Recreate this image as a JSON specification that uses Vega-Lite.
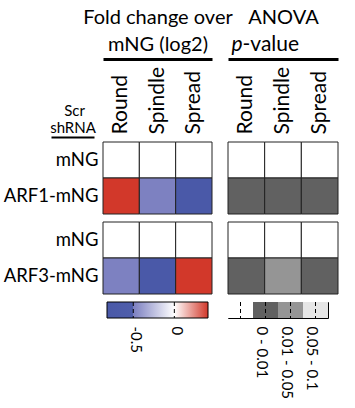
{
  "$schema": "https://vega.github.io/schema/vega-lite/v6.json",
  "padding": {"left": 3, "top": 7, "right": 5, "bottom": 5},
  "datasets": {
    "cells": [
      {"group": "ARF1", "row": "mNG", "col": "Round", "fold": 0, "pcat": "> 0.1"},
      {"group": "ARF1", "row": "mNG", "col": "Spindle", "fold": 0, "pcat": "> 0.1"},
      {"group": "ARF1", "row": "mNG", "col": "Spread", "fold": 0, "pcat": "> 0.1"},
      {"group": "ARF1", "row": "ARF1-mNG", "col": "Round", "fold": 0.41, "pcat": "0 - 0.01"},
      {"group": "ARF1", "row": "ARF1-mNG", "col": "Spindle", "fold": -0.49, "pcat": "0 - 0.01"},
      {"group": "ARF1", "row": "ARF1-mNG", "col": "Spread", "fold": -0.7, "pcat": "0 - 0.01"},
      {"group": "ARF3", "row": "mNG", "col": "Round", "fold": 0, "pcat": "> 0.1"},
      {"group": "ARF3", "row": "mNG", "col": "Spindle", "fold": 0, "pcat": "> 0.1"},
      {"group": "ARF3", "row": "mNG", "col": "Spread", "fold": 0, "pcat": "> 0.1"},
      {"group": "ARF3", "row": "ARF3-mNG", "col": "Round", "fold": -0.49, "pcat": "0 - 0.01"},
      {"group": "ARF3", "row": "ARF3-mNG", "col": "Spindle", "fold": -0.7, "pcat": "0.01 - 0.05"},
      {"group": "ARF3", "row": "ARF3-mNG", "col": "Spread", "fold": 0.41, "pcat": "0 - 0.01"}
    ]
  },
  "columns": 2,
  "spacing": {"row": 8, "column": 16},
  "bounds": "flush",
  "center": true,
  "concat": [
    {
      "width": 109, "height": 72,
      "layer": [
        {
          "data": {"name": "cells"},
          "transform": [{"filter": "datum.group == 'ARF1'"}],
          "mark": {"type": "rect", "stroke": "#222222", "strokeWidth": 1},
          "encoding": {
            "x": {"field": "col", "type": "nominal", "sort": ["Round", "Spindle", "Spread"],
              "scale": {"paddingInner": 0, "paddingOuter": 0},
              "axis": {"orient": "top", "labelAngle": -90, "labelAlign": "left", "labelBaseline": "middle", "labelPadding": 8, "ticks": false, "domain": false, "labelFontSize": 21,
                "title": "Fold change over", "titleFontSize": 20, "titleY": -119, "titleBaseline": "alphabetic"}},
            "y": {"field": "row", "type": "nominal", "sort": ["mNG", "ARF1-mNG"],
              "scale": {"paddingInner": 0, "paddingOuter": 0},
              "axis": {"labelPadding": 5, "ticks": false, "domain": false, "labelFontSize": 18.5,
                "title": "Scr", "titleAngle": 0, "titleAlign": "center", "titleBaseline": "alphabetic", "titleX": -29, "titleY": -27, "titleFontSize": 15}},
            "color": {"field": "fold", "type": "quantitative",
              "scale": {"type": "linear", "domain": [-0.82, -0.5, -0.499, 0, 0.41], "range": ["#4a59a8", "#4a59a8", "#7b7fc0", "#ffffff", "#d2382a"], "interpolate": "rgb"},
              "legend": null}
          }
        },
        {
          "data": {"values": []},
          "mark": "rule",
          "encoding": {
            "x": {"field": "col", "type": "nominal",
              "axis": {"orient": "top", "offset": 83, "labels": false, "ticks": false, "grid": false, "domain": true, "domainWidth": 3, "domainColor": "black", "title": "mNG (log2)", "titleFontSize": 20, "titleY": -9, "titleBaseline": "alphabetic"}}
          }
        }
      ],
      "resolve": {"axis": {"x": "independent"}}
    },
    {
      "width": 110, "height": 72,
      "layer": [
        {
          "data": {"name": "cells"},
          "transform": [{"filter": "datum.group == 'ARF1'"}],
          "mark": {"type": "rect", "stroke": "#222222", "strokeWidth": 1},
          "encoding": {
            "x": {"field": "col", "type": "nominal", "sort": ["Round", "Spindle", "Spread"],
              "scale": {"paddingInner": 0, "paddingOuter": 0},
              "axis": {"orient": "top", "labelAngle": -90, "labelAlign": "left", "labelBaseline": "middle", "labelPadding": 8, "ticks": false, "domain": false, "labelFontSize": 21,
                "title": "ANOVA", "titleFontSize": 20, "titleY": -119, "titleBaseline": "alphabetic"}},
            "y": {"field": "row", "type": "nominal", "sort": ["mNG", "ARF1-mNG"],
              "scale": {"paddingInner": 0, "paddingOuter": 0},
              "axis": {"labels": false, "ticks": false, "domain": false,
                "title": "p", "titleFontStyle": "italic", "titleAngle": 0, "titleAlign": "right", "titleBaseline": "alphabetic", "titleX": 14, "titleY": -92, "titleFontSize": 21}},
            "color": {"field": "pcat", "type": "nominal",
              "scale": {"domain": ["> 0.1", "0 - 0.01", "0.01 - 0.05", "0.05 - 0.1"], "range": ["#ffffff", "#616161", "#959595", "#e6e6e6"]},
              "legend": null}
          }
        },
        {
          "data": {"values": []},
          "mark": "rule",
          "encoding": {
            "x": {"field": "col", "type": "nominal",
              "axis": {"orient": "top", "offset": 83, "labels": false, "ticks": false, "grid": false, "domain": true, "domainWidth": 3, "domainColor": "black", "title": "-value", "titleFontSize": 21, "titleAlign": "left", "titleX": 14, "titleY": -9, "titleBaseline": "alphabetic"}}
          }
        }
      ],
      "resolve": {"axis": {"x": "independent"}}
    },
    {
      "width": 109, "height": 72,
      "data": {"name": "cells"},
      "transform": [{"filter": "datum.group == 'ARF3'"}],
      "mark": {"type": "rect", "stroke": "#222222", "strokeWidth": 1},
      "encoding": {
        "x": {"field": "col", "type": "nominal", "sort": ["Round", "Spindle", "Spread"],
          "scale": {"paddingInner": 0, "paddingOuter": 0},
          "axis": {"orient": "top", "offset": 85, "position": -52, "labels": false, "ticks": false, "grid": false, "domain": true, "domainWidth": 2, "domainColor": "black", "domainDash": [43, 400],
            "title": "shRNA", "titleFontSize": 15, "titleX": 21.5, "titleY": -5, "titleAlign": "center", "titleBaseline": "alphabetic"}},
        "y": {"field": "row", "type": "nominal", "sort": ["mNG", "ARF3-mNG"],
          "scale": {"paddingInner": 0, "paddingOuter": 0},
          "axis": {"labelPadding": 5, "ticks": false, "domain": false, "title": null, "labelFontSize": 18.5}},
        "color": {"field": "fold", "type": "quantitative",
          "scale": {"type": "linear", "domain": [-0.82, -0.5, -0.499, 0, 0.41], "range": ["#4a59a8", "#4a59a8", "#7b7fc0", "#ffffff", "#d2382a"], "interpolate": "rgb"},
          "legend": null}
      }
    },
    {
      "width": 110, "height": 72,
      "data": {"name": "cells"},
      "transform": [{"filter": "datum.group == 'ARF3'"}],
      "mark": {"type": "rect", "stroke": "#222222", "strokeWidth": 1},
      "encoding": {
        "x": {"field": "col", "type": "nominal", "sort": ["Round", "Spindle", "Spread"],
          "scale": {"paddingInner": 0, "paddingOuter": 0}, "axis": null},
        "y": {"field": "row", "type": "nominal", "sort": ["mNG", "ARF3-mNG"],
          "scale": {"paddingInner": 0, "paddingOuter": 0}, "axis": null},
        "color": {"field": "pcat", "type": "nominal",
          "scale": {"domain": ["> 0.1", "0 - 0.01", "0.01 - 0.05", "0.05 - 0.1"], "range": ["#ffffff", "#616161", "#959595", "#e6e6e6"]},
          "legend": null}
      }
    },
    {
      "width": 101, "height": 16,
      "layer": [
        {
          "data": {"values": [{"lo": -0.82, "hi": 0.41}]},
          "mark": {"type": "rect", "stroke": "black", "strokeWidth": 1,
            "fill": {"gradient": "linear", "x1": 0, "y1": 0, "x2": 1, "y2": 0,
              "stops": [
                {"offset": 0, "color": "#4a59a8"},
                {"offset": 0.26, "color": "#4f5eab"},
                {"offset": 0.2601, "color": "#7b7fc0"},
                {"offset": 0.667, "color": "#ffffff"},
                {"offset": 1, "color": "#d2382a"}
              ]}},
          "encoding": {
            "x": {"field": "lo", "type": "quantitative", "scale": {"domain": [-0.82, 0.41], "nice": false, "zero": false},
              "axis": {"orient": "bottom", "values": [-0.5, 0], "labelExpr": "'' + datum.value", "labelAngle": 90, "labelAlign": "left", "labelBaseline": "middle", "labelPadding": 8, "labelOffset": 2, "ticks": false, "domain": false, "grid": false, "title": null, "labelFontSize": 15}},
            "x2": {"field": "hi"}
          }
        },
        {
          "data": {"values": [{"v": -0.5}, {"v": 0}]},
          "mark": {"type": "rule", "strokeDash": [4, 3], "color": "black", "strokeWidth": 1},
          "encoding": {"x": {"field": "v", "type": "quantitative"}}
        }
      ]
    },
    {
      "width": 100, "height": 16,
      "view": {"stroke": "black", "strokeWidth": 1},
      "layer": [
        {
          "data": {"values": [{"pcat": "> 0.1"}, {"pcat": "0 - 0.01"}, {"pcat": "0.01 - 0.05"}, {"pcat": "0.05 - 0.1"}]},
          "mark": {"type": "rect"},
          "encoding": {
            "x": {"field": "pcat", "type": "nominal", "sort": ["> 0.1", "0 - 0.01", "0.01 - 0.05", "0.05 - 0.1"],
              "scale": {"paddingInner": 0, "paddingOuter": 0},
              "axis": {"orient": "bottom", "values": ["0 - 0.01", "0.01 - 0.05", "0.05 - 0.1"], "labelAngle": 90, "labelAlign": "left", "labelBaseline": "middle", "labelPadding": 8, "labelOffset": -4, "ticks": false, "domain": false, "grid": false, "title": null, "labelFontSize": 15}},
            "color": {"field": "pcat", "type": "nominal",
              "scale": {"domain": ["> 0.1", "0 - 0.01", "0.01 - 0.05", "0.05 - 0.1"], "range": ["#ffffff", "#616161", "#959595", "#e6e6e6"]},
              "legend": null}
          }
        },
        {
          "data": {"values": [{"pcat": "> 0.1"}, {"pcat": "0 - 0.01"}, {"pcat": "0.01 - 0.05"}, {"pcat": "0.05 - 0.1"}]},
          "mark": {"type": "rule", "strokeDash": [4, 3], "color": "black", "strokeWidth": 1},
          "encoding": {"x": {"field": "pcat", "type": "nominal", "sort": ["> 0.1", "0 - 0.01", "0.01 - 0.05", "0.05 - 0.1"]}}
        }
      ]
    }
  ],
  "resolve": {"scale": {"color": "independent"}},
  "config": {
    "view": {"stroke": null},
    "font": "Lato",
    "axis": {"grid": false, "labelFont": "Lato", "titleFont": "Lato", "labelColor": "black", "titleColor": "black", "titleFontWeight": "normal"}
  }
}
